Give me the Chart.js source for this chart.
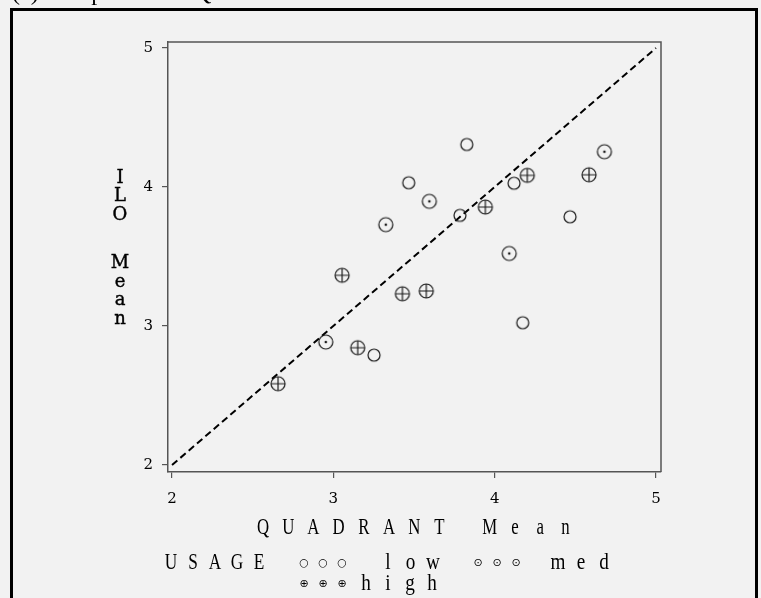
<!DOCTYPE html>
<html>
<head>
<meta charset="utf-8">
<script src="https://cdn.jsdelivr.net/npm/chart.js@4"></script>
<style>
  html, body { margin: 0; padding: 0; background: #f2f2f2; }
  #wrap { width: 761px; height: 598px; }
</style>
</head>
<body>
<div id="wrap"><canvas id="c" width="761" height="598"></canvas></div>
<script>
// ---- data ----
const xTickVals = [2, 3, 4, 5];
const yTickVals = [2, 3, 4, 5];
const lowX  = [3.827, 3.467, 3.785, 4.120, 4.467, 4.174, 3.252];
const lowY  = [4.306, 4.031, 3.796, 4.027, 3.786, 3.024, 2.791];
const medX  = [3.325, 3.595, 4.090, 4.680, 2.953];
const medY  = [3.729, 3.897, 3.522, 4.254, 2.885];
const highX = [2.657, 3.054, 3.151, 3.428, 3.576, 3.942, 4.202, 4.585];
const highY = [2.585, 3.365, 2.844, 3.232, 3.252, 3.856, 4.084, 4.088];
const refX  = [2, 5];
const refY  = [2, 5];
const usageLabels = ['low', 'med', 'high'];
const xTitle = 'QUADRANT Mean';
const yTitle = 'ILO Mean';
const legendTitle = 'USAGE';
const topTitle = '(c) Comparison of QUADRANT and ILO Means';

const pts = (xs, ys) => xs.map((x, i) => ({ x, y: ys[i] }));

function makeMarker(kind) {
  const r = kind === 'low' ? 6 : 7;
  const size = 2 * r + 4;
  const c = document.createElement('canvas');
  c.width = size; c.height = size;
  const g = c.getContext('2d');
  const m = size / 2;
  g.strokeStyle = '#1a1a1a';
  g.lineWidth = 1.2;
  g.beginPath(); g.arc(m, m, r, 0, Math.PI * 2); g.stroke();
  if (kind === 'med') {
    g.fillStyle = '#1a1a1a';
    g.beginPath(); g.arc(m, m, 1.3, 0, Math.PI * 2); g.fill();
  }
  if (kind === 'high') {
    g.beginPath();
    g.moveTo(m - r, m); g.lineTo(m + r, m);
    g.moveTo(m, m - r); g.lineTo(m, m + r);
    g.stroke();
  }
  return c;
}

function drawSpaced(ctx, text, x0, pitch, y, font, sx) {
  ctx.save();
  ctx.font = font;
  ctx.textAlign = 'center';
  ctx.textBaseline = 'middle';
  ctx.fillStyle = '#000';
  for (let i = 0; i < text.length; i++) {
    const ch = text[i];
    if (ch === ' ') continue;
    const cx = x0 + i * pitch;
    ctx.save();
    ctx.translate(cx, y);
    ctx.scale(sx, 1);
    ctx.fillText(ch, 0, 0);
    ctx.restore();
  }
  ctx.restore();
}

const decor = {
  id: 'decor',
  beforeDraw(chart) {
    const ctx = chart.ctx;
    ctx.save();
    ctx.fillStyle = '#f2f2f2';
    ctx.fillRect(0, 0, chart.width, chart.height);
    ctx.strokeStyle = '#000';
    ctx.lineWidth = 3;
    ctx.strokeRect(11.5, 9.5, 745, 700);
    ctx.font = '24px "Liberation Serif"';
    ctx.fillStyle = '#000';
    ctx.textBaseline = 'alphabetic';
    ctx.textAlign = 'left';
    ctx.fillText(topTitle, 12, 0);
    ctx.restore();
  },
  afterDraw(chart) {
    const ctx = chart.ctx;
    const a = chart.chartArea;
    ctx.save();
    ctx.strokeStyle = '#555';
    ctx.lineWidth = 1.5;
    ctx.beginPath();
    ctx.moveTo(a.left, a.top); ctx.lineTo(a.right, a.top); ctx.lineTo(a.right, a.bottom);
    ctx.stroke();
    ctx.restore();

    // y title, stacked letters
    ctx.save();
    ctx.font = '18px "DejaVu Serif"';
    ctx.fillStyle = '#000';
    ctx.strokeStyle = '#000';
    ctx.lineWidth = 0.4;
    ctx.textAlign = 'center';
    ctx.textBaseline = 'middle';
    let yy = 178;
    for (const ch of yTitle) {
      if (ch === ' ') { yy += 30; continue; }
      ctx.fillText(ch, 120, yy);
      ctx.strokeText(ch, 120, yy);
      yy += 18.5;
    }
    ctx.restore();

    const serif = '24px "Liberation Serif"';
    drawSpaced(ctx, xTitle, 263, 25.2, 528, serif, 0.7);
    drawSpaced(ctx, legendTitle, 171, 22, 563, serif, 0.72);
    drawSpaced(ctx, usageLabels[0], 388, 22.5, 563, serif, 0.8);
    drawSpaced(ctx, usageLabels[1], 558, 23, 563, serif, 0.8);
    drawSpaced(ctx, usageLabels[2], 366, 22, 584, serif, 0.8);
    const symFont = '11px "DejaVu Sans"';
    drawSpaced(ctx, '\u25CB\u25CB\u25CB', 304, 19, 563, symFont, 1);
    drawSpaced(ctx, '\u2299\u2299\u2299', 478, 19, 563, symFont, 1);
    drawSpaced(ctx, '\u2295\u2295\u2295', 304, 19, 584, symFont, 1);
  }
};

const tickFont = { family: 'DejaVu Serif', size: 15 };

new Chart(document.getElementById('c'), {
  type: 'scatter',
  data: {
    datasets: [
      { type: 'line', label: 'ref', data: pts(refX, refY), borderColor: '#000', borderWidth: 2,
        borderDash: [7, 4], pointRadius: 0, fill: false, order: 5 },
      { label: usageLabels[0], data: pts(lowX, lowY), pointStyle: makeMarker('low'), order: 1 },
      { label: usageLabels[1], data: pts(medX, medY), pointStyle: makeMarker('med'), order: 1 },
      { label: usageLabels[2], data: pts(highX, highY), pointStyle: makeMarker('high'), order: 1 }
    ]
  },
  options: {
    responsive: false,
    animation: false,
    devicePixelRatio: 1,
    layout: { padding: { top: 42, right: 100, left: 0, bottom: 0 } },
    plugins: { legend: { display: false }, tooltip: { enabled: false }, title: { display: false } },
    scales: {
      x: {
        type: 'linear', min: 1.975, max: 5.031,
        afterBuildTicks: s => { s.ticks = xTickVals.map(v => ({ value: v })); },
        afterFit: s => { s.height = 126; },
        grid: { display: true, drawOnChartArea: false, drawTicks: true, tickLength: 6, color: '#555', lineWidth: 1.2 },
        border: { display: true, color: '#555', width: 1.5 },
        ticks: { color: '#000', font: tickFont, padding: 12, maxRotation: 0, callback: v => String(v) }
      },
      y: {
        type: 'linear', min: 1.95, max: 5.043,
        afterBuildTicks: s => { s.ticks = yTickVals.map(v => ({ value: v })); },
        afterFit: s => { s.width = 168; },
        grid: { display: true, drawOnChartArea: false, drawTicks: true, tickLength: 6, color: '#555', lineWidth: 1.2 },
        border: { display: true, color: '#555', width: 1.5 },
        ticks: { color: '#000', font: tickFont, padding: 9, callback: v => String(v) }
      }
    }
  },
  plugins: [decor]
});
</script>
</body>
</html>
